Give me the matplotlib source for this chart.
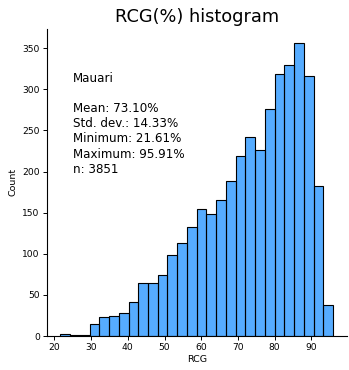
import matplotlib
matplotlib.use('Agg')
import matplotlib.pyplot as plt
import numpy as np

# RCG values for Mauari, binned into 28 equal bins between min and max
rcg_min = 21.61
rcg_max = 95.91
counts = [3, 1, 1, 14, 23, 24, 28, 41, 65, 65, 74, 98, 113, 132,
          155, 148, 165, 188, 219, 242, 226, 276, 318, 330, 356, 316, 182, 38]

site = 'Mauari'
mean = 73.10
std = 14.33
n = 3851

edges = np.linspace(rcg_min, rcg_max, len(counts) + 1)

fig = plt.figure(figsize=(3.49, 3.70), dpi=100)
ax = fig.add_axes([46.7 / 349, 1 - 336 / 370, 300 / 349, 307.4 / 370])

ax.bar(edges[:-1], counts, width=np.diff(edges), align='edge',
       color='dodgerblue', alpha=0.75, edgecolor='none')
ax.bar(edges[:-1], counts, width=np.diff(edges), align='edge',
       fill=False, edgecolor='black', linewidth=0.8)

span = rcg_max - rcg_min
ax.set_xlim(rcg_min - 0.05 * span, rcg_max + 0.05 * span)
ax.set_ylim(0, max(counts) * 1.05)
ax.set_xticks([20, 30, 40, 50, 60, 70, 80, 90])
ax.set_yticks(range(0, 351, 50))

for s in ['top', 'right']:
    ax.spines[s].set_visible(False)
for s in ['left', 'bottom']:
    ax.spines[s].set_linewidth(0.8)
ax.tick_params(labelsize=6.6, length=3, width=0.7, pad=2)

ax.set_xlabel('RCG', fontsize=6.8, labelpad=2)
ax.set_ylabel('Count', fontsize=6.8, labelpad=3)
ax.set_title('RCG(%) histogram', fontsize=12.8, pad=5)

info = (f'{site}\n\nMean: {mean:.2f}%\nStd. dev.: {std:.2f}%\n'
        f'Minimum: {rcg_min:.2f}%\nMaximum: {rcg_max:.2f}%\nn: {n}')
ax.text(0.088, 0.86, info, transform=ax.transAxes, fontsize=8.6,
        va='top', ha='left', linespacing=1.22)

fig.savefig('out.png', dpi=100)
